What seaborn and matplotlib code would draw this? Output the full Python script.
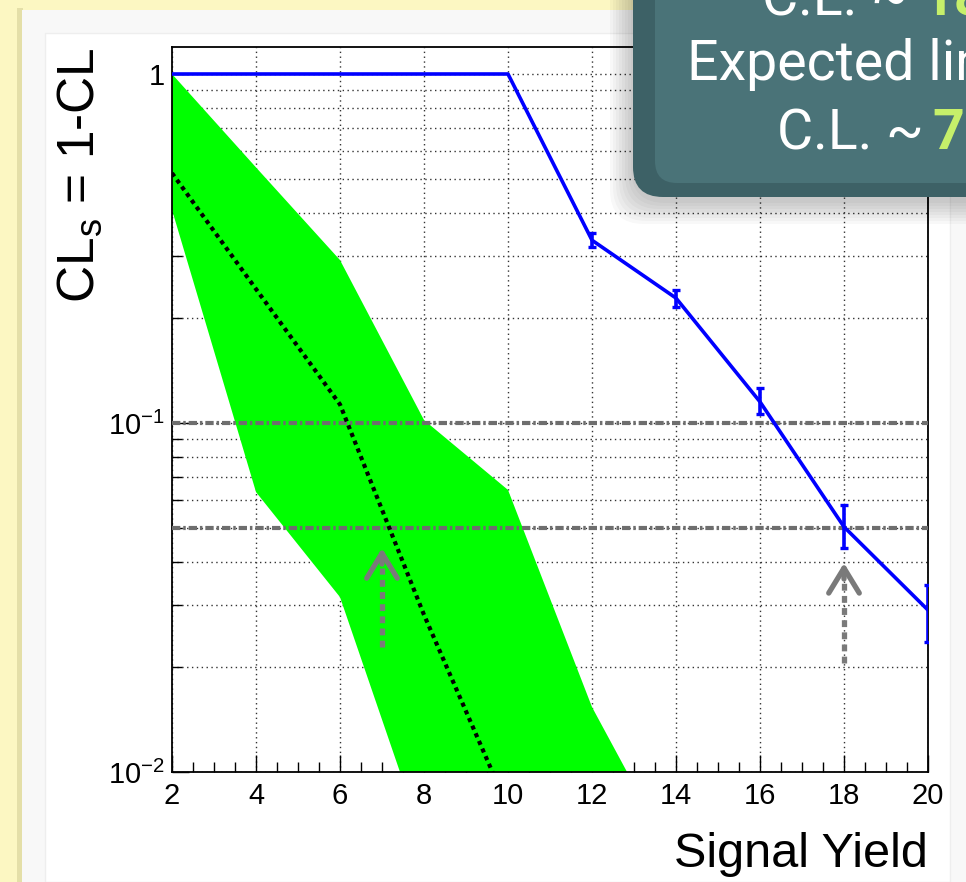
import numpy as np
import pandas as pd
import seaborn as sns
import matplotlib
matplotlib.use("Agg")
import matplotlib.pyplot as plt
from matplotlib.patches import Rectangle, FancyBboxPatch
from matplotlib.transforms import IdentityTransform
from matplotlib.ticker import MultipleLocator, FixedLocator, FixedFormatter, LogLocator, NullFormatter

# ---------------- data ----------------
signal_yield = [2, 4, 6, 8, 10, 12, 14, 16, 18, 20]
obs_cls = [1.0, 1.0, 1.0, 1.0, 1.0, 0.334, 0.228, 0.115, 0.0504, 0.0291]
obs_lo = [1.0, 1.0, 1.0, 1.0, 1.0, 0.319, 0.215, 0.106, 0.0438, 0.0236]
obs_hi = [1.0, 1.0, 1.0, 1.0, 1.0, 0.350, 0.240, 0.126, 0.0581, 0.0344]

exp_x = [2, 4, 6, 8, 10, 12, 14]
band_lo = [0.408, 0.0634, 0.0317, 0.0063, 0.0013, 0.0003, 0.0001]
band_hi = [1.0, 0.54, 0.293, 0.102, 0.0643, 0.01535, 0.0055]

median_x = [2, 4, 6, 8, 10]
median_cls = [0.52, 0.242, 0.113, 0.0282, 0.0079]

cl_levels = [0.1, 0.05]

arrow_x = [7, 18]
arrow_tip = [0.0438, 0.0397]
arrow_base = [0.0228, 0.0205]

ytick_values = [0.01, 0.1, 1]
ytick_labels = ["$10^{-2}$", "$10^{-1}$", "1"]

# ---------------- style ----------------
sns.set_theme(style="white")
plt.rcParams["font.family"] = ["Liberation Sans", "DejaVu Sans"]
plt.rcParams["mathtext.fontset"] = "custom"
plt.rcParams["mathtext.rm"] = "Liberation Sans"
plt.rcParams["mathtext.it"] = "Liberation Sans:italic"
plt.rcParams["mathtext.bf"] = "Liberation Sans:bold"

W, H = 966, 882
fig = plt.figure(figsize=(W / 100, H / 100), dpi=100)
fig.patch.set_facecolor("#fcf7c2")
ID = IdentityTransform()

# slide panel (behind the axes)
fig.patches.append(Rectangle((17, 0), 6, H - 8, transform=ID, facecolor="#e4dfa8", edgecolor="none", zorder=-3))
fig.patches.append(Rectangle((22, 0), W - 22, H - 10, transform=ID, facecolor="#f8f8f8", edgecolor="none", zorder=-2))
fig.patches.append(Rectangle((45, 0), 905, H - 33, transform=ID, facecolor="white", edgecolor="#eeeeee", lw=1, zorder=-1))

def fx(px):
    return px / W

def fy(py):
    return 1 - py / H

ax = fig.add_axes([fx(172), fy(772), (928 - 172) / W, (772 - 47) / H])
ax.set_facecolor("white")
ax.set_yscale("log")

# expected band
ax.fill_between(exp_x, band_lo, band_hi, color="#00ff00", lw=0, zorder=2)

# CL reference lines
for lvl in cl_levels:
    ax.axhline(lvl, color="#6e6e6e", lw=3.0, ls=(0, (2.0, 0.7, 0.6, 0.7)), zorder=3)

# expected median
sns.lineplot(x=median_x, y=median_cls, ax=ax, color="black", lw=3.0, zorder=4)
ax.lines[-1].set_linestyle((0, (1, 1)))

# observed
sns.lineplot(x=signal_yield, y=obs_cls, ax=ax, color="#0000ff", lw=2.6, zorder=6)
xs = np.array(signal_yield, float)
ys = np.array(obs_cls)
lo = np.array(obs_lo)
hi = np.array(obs_hi)
m = (hi - lo) > 0
ax.errorbar(xs[m], ys[m], yerr=[ys[m] - lo[m], hi[m] - ys[m]], fmt="none",
            ecolor="#0000ff", elinewidth=2.6, capsize=3.2, capthick=2.4, zorder=6)

# arrows
for x0, tip, base in zip(arrow_x, arrow_tip, arrow_base):
    ax.plot([x0, x0], [base, tip * 0.88], color="#7a7a7a", lw=3.8, ls=(0, (1.3, 1.0)),
            solid_capstyle="butt", zorder=5)
    ax.annotate("", xy=(x0, tip), xytext=(x0, tip * 0.9),
                arrowprops=dict(arrowstyle="->,head_length=1.8,head_width=1.1",
                                color="#7a7a7a", lw=3.8, shrinkA=0, shrinkB=0,
                                mutation_scale=10), zorder=5)

ax.set_xlim(2, 20)
ax.set_ylim(0.01, 1.195)

# ticks
ax.xaxis.set_major_locator(MultipleLocator(2))
ax.xaxis.set_minor_locator(MultipleLocator(0.5))
ax.yaxis.set_major_locator(FixedLocator(ytick_values))
ax.yaxis.set_major_formatter(FixedFormatter(ytick_labels))
ax.yaxis.set_minor_locator(LogLocator(base=10, subs=np.arange(2, 10)))
ax.yaxis.set_minor_formatter(NullFormatter())
ax.tick_params(which="both", direction="in", bottom=True, left=True, top=False, right=False,
               color="black", width=1)
ax.tick_params(which="major", length=12.5, labelsize=21, labelcolor="black")
ax.tick_params(which="minor", length=7)
ax.tick_params(axis="x", which="major", pad=7)
ax.tick_params(axis="y", which="major", pad=5)

# grid
ax.set_axisbelow(True)
ax.grid(True, axis="x", which="major", color="#333333", lw=1.0, ls=(0, (1, 2.5)))
ax.grid(True, axis="y", which="both", color="#333333", lw=1.0, ls=(0, (1, 2.5)))
ax.grid(False, axis="x", which="minor")

for s in ax.spines.values():
    s.set_color("black")
    s.set_linewidth(1.3)

ax.set_xlabel("Signal Yield", loc="right", fontsize=35, color="black")
ax.xaxis.set_label_coords(1.0, -0.083)
ax.set_ylabel("CL$_{\\mathrm{s}}$ = 1-CL", loc="top", fontsize=37, color="black")
ax.yaxis.set_label_coords(-0.122, 1.0)
ax.yaxis.label.set_va("center")

# overlay note box (partially off-slide)
for i in range(8):
    g = 2 + 3 * i
    fig.patches.append(FancyBboxPatch((633 - g, H - 197 - g - 4), 600, 400, transform=ID,
                                      boxstyle="round,pad=0,rounding_size=34",
                                      facecolor="black", edgecolor="none", alpha=0.028, zorder=5))
fig.patches.append(FancyBboxPatch((633, H - 197), 600, 400, transform=ID,
                                  boxstyle="round,pad=0,rounding_size=30",
                                  facecolor="#3d6166", edgecolor="none", zorder=6))
fig.patches.append(FancyBboxPatch((655, H - 183), 600, 400, transform=ID,
                                  boxstyle="round,pad=0,rounding_size=22",
                                  facecolor="#4a7378", edgecolor="none", zorder=7))

note_font = ["Roboto", "DejaVu Sans"]
white = "#ffffff"
green = "#c6ef6a"
fs = 40
fig.text(762, H - 15, "C.L. ~", transform=ID, color=white, fontsize=fs, family=note_font,
         va="baseline", ha="left", zorder=10)
fig.text(922, H - 15, "18", transform=ID, color=green, fontsize=fs, family=note_font,
         fontweight="bold", va="baseline", ha="left", zorder=10)
fig.text(687, H - 80, "Expected limit at 95%", transform=ID, color=white, fontsize=fs,
         family=note_font, va="baseline", ha="left", zorder=10)
fig.text(777, H - 149, "C.L. ~", transform=ID, color=white, fontsize=fs, family=note_font,
         va="baseline", ha="left", zorder=10)
fig.text(932, H - 149, "7", transform=ID, color=green, fontsize=fs, family=note_font,
         fontweight="bold", va="baseline", ha="left", zorder=10)

fig.savefig("out.png", dpi=100, facecolor=fig.get_facecolor())
